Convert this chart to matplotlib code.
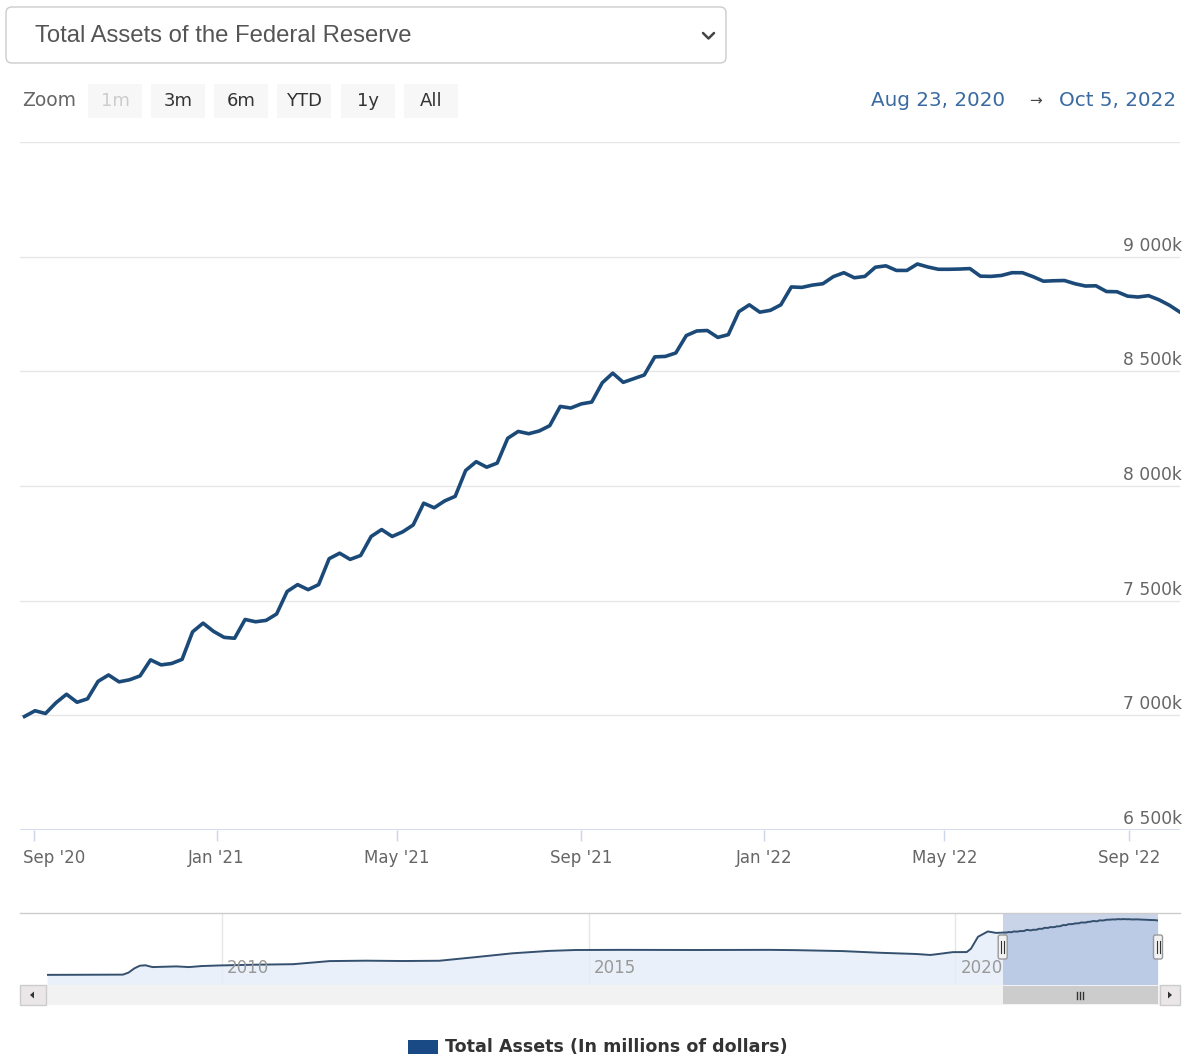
import numpy as np
import pandas as pd
import matplotlib
matplotlib.use('Agg')
import matplotlib.pyplot as plt
import matplotlib.dates as mdates
from matplotlib.patches import FancyBboxPatch, Rectangle, Polygon
from matplotlib.transforms import offset_copy

W, H = 1190, 1059

# ---- data: weekly total assets (millions of dollars, shown in k) ----
week_start = '2020-08-26'
week_end = '2022-10-05'
total_assets = [
    # 2020
    6995, 7020, 7008, 7055, 7092, 7057, 7072, 7148, 7176, 7146,
    7155, 7172, 7242, 7220, 7226, 7244, 7364, 7402, 7366,
    # 2021
    7340, 7336, 7418, 7408, 7414, 7442, 7540, 7570, 7548, 7570,
    7683, 7707, 7680, 7697, 7780, 7810, 7780, 7800, 7830, 7925,
    7905, 7935, 7955, 8068, 8106, 8082, 8100, 8208, 8238, 8228,
    8240, 8263, 8347, 8340, 8358, 8366, 8450, 8492, 8452, 8468,
    8484, 8563, 8565, 8580, 8656, 8676, 8678, 8648, 8660, 8760,
    8790, 8758,
    # 2022
    8766, 8790, 8868, 8866, 8876, 8882, 8913, 8930, 8908, 8914,
    8954, 8960, 8940, 8940, 8968, 8955, 8945, 8945, 8946, 8948,
    8915, 8914, 8918, 8930, 8930, 8913, 8893, 8895, 8896, 8882,
    8872, 8873, 8848, 8847, 8828, 8824, 8830, 8812, 8788, 8758,
]

# navigator history (coarse)
nav_dates = ['2007-08-15', '2008-08-27', '2008-09-24', '2008-10-22', '2008-11-19',
             '2008-12-17', '2009-01-21', '2009-03-18', '2009-05-20', '2009-07-22',
             '2009-09-23', '2009-12-23', '2010-03-24', '2010-06-23', '2010-12-22',
             '2011-03-23', '2011-06-22', '2011-12-21', '2012-06-20', '2012-12-19',
             '2013-06-19', '2013-12-18', '2014-06-18', '2014-10-29', '2015-06-17',
             '2016-06-22', '2017-06-21', '2017-10-25', '2018-06-20', '2018-12-19',
             '2019-06-19', '2019-08-28', '2019-09-25', '2019-12-18', '2020-02-26',
             '2020-03-18', '2020-04-22', '2020-06-10', '2020-07-22', '2020-08-19']
nav_values = [870, 905, 1200, 1800, 2200,
              2260, 2000, 2050, 2100, 2000,
              2150, 2240, 2300, 2350, 2420,
              2650, 2870, 2930, 2880, 2920,
              3450, 4000, 4350, 4480, 4500,
              4480, 4500, 4460, 4320, 4080,
              3900, 3760, 3850, 4170, 4180,
              4670, 6400, 7170, 6960, 7000]

y_ticks = [6500, 7000, 7500, 8000, 8500, 9000, 9500]
nav_years = [2010, 2015, 2020]
view_start, view_end = '2020-08-23', '2022-10-05'
nav_start = '2007-08-15'

LINE = '#1c4a78'
AXIS = '#ccd6eb'
GRID = '#e6e6e6'
LABEL = '#666666'

dates = pd.date_range(week_start, week_end, freq='W-WED')

fig = plt.figure(figsize=(W / 100, H / 100), dpi=100)
fig.patch.set_facecolor('white')

# ── main chart ──
ax = fig.add_axes([20 / W, 1 - 830 / H, 1160 / W, 688 / H])
ax.plot(dates, total_assets, color=LINE, lw=2.6, solid_joinstyle='round', zorder=3)
ax.set_xlim(pd.Timestamp(view_start), pd.Timestamp(view_end))
ax.set_ylim(y_ticks[0], y_ticks[-1])
for s in ax.spines.values():
    s.set_visible(False)
for v in y_ticks[1:]:
    ax.axhline(v, color=GRID, lw=1, zorder=0)
ax.axhline(y_ticks[0], color=AXIS, lw=1.2, zorder=1)
ax.set_yticks([])
for v in y_ticks[:-1]:
    ax.annotate(f'{v // 1000} {v % 1000:03d}k', xy=(1, v),
                xycoords=('axes fraction', 'data'), xytext=(2, 2),
                textcoords='offset pixels', ha='right', va='bottom',
                fontsize=12.3, color=LABEL)

ax.xaxis.set_major_locator(mdates.MonthLocator(bymonth=[1, 5, 9]))
ax.xaxis.set_major_formatter(mdates.DateFormatter("%b '%y"))
ax.tick_params(axis='x', direction='out', length=8, width=1, color=AXIS,
               labelsize=12, labelcolor=LABEL, pad=6)
fig.canvas.draw()
first = ax.get_xticklabels()[0]
first.set_horizontalalignment('left')
first.set_transform(offset_copy(first.get_transform(), fig=fig, x=-11, units='dots'))

# ── navigator ──
nav = fig.add_axes([47 / W, 1 - 985 / H, 1111 / W, 72 / H])
nx = list(pd.to_datetime(nav_dates)) + list(dates)
ny = nav_values + total_assets
nav.set_xlim(pd.Timestamp(nav_start), pd.Timestamp(view_end))
nav.set_ylim(-600, 9850)
nav.fill_between(nx, ny, -600, color='#e4edf8', alpha=0.8, lw=0, zorder=1)
nav.plot(nx, ny, color='#34506e', lw=1.4, zorder=3)
nav.axvspan(pd.Timestamp(view_start), pd.Timestamp(view_end),
            color=(102 / 255, 133 / 255, 194 / 255, 0.35), lw=0, zorder=2)
for yr in nav_years:
    d = pd.Timestamp(f'{yr}-01-01')
    nav.axvline(d, color=GRID, lw=1, zorder=0)
    nav.annotate(str(yr), xy=(d, 0.24), xycoords=('data', 'axes fraction'),
                 xytext=(5, 0), textcoords='offset pixels', ha='left', va='center',
                 fontsize=12, color='#999999', zorder=4)
nav.axis('off')

# ── ui overlay (pixel coords) ──
ui = fig.add_axes([0, 0, 1, 1], zorder=10)
ui.set_xlim(0, W)
ui.set_ylim(H, 0)
ui.axis('off')
ui.patch.set_alpha(0)

ui.add_patch(FancyBboxPatch((6, 7), 720, 56, boxstyle='round,pad=0,rounding_size=6',
                            fc='white', ec='#cccccc', lw=1))
ui.text(35, 36, 'Total Assets of the Federal Reserve', fontsize=17.2,
        family='Liberation Sans', color='#555555', va='center')
ui.plot([703, 708.5, 714], [33, 38.5, 33], color='#444444', lw=1.8,
        solid_capstyle='round', solid_joinstyle='round')

ui.text(22, 101, 'Zoom', fontsize=13.5, color=LABEL, va='center')
buttons = ['1m', '3m', '6m', 'YTD', '1y', 'All']
bx = [115, 178, 241, 304, 368, 431]
for lab, x in zip(buttons, bx):
    ui.add_patch(Rectangle((x - 27, 84), 54, 34, fc='#f7f7f7', ec='none'))
    ui.text(x, 101, lab, fontsize=13, ha='center', va='center',
            color='#cccccc' if lab == '1m' else '#333333')

ui.text(1005, 101, 'Aug 23, 2020', fontsize=14.3, color='#3a6aa0', ha='right', va='center')
ui.text(1035, 101, '→', fontsize=11, color='#444444', ha='center', va='center')
ui.text(1176, 101, 'Oct 5, 2022', fontsize=14.3, color='#3a6aa0', ha='right', va='center')

# navigator frame + scrollbar
ui.plot([20, 1180], [913, 913], color='#cccccc', lw=1)
ui.add_patch(Rectangle((20, 985), 1160, 20, fc='#f2f2f2', ec='none'))
ui.add_patch(Rectangle((20, 985), 26, 20, fc='#ebe7e8', ec='#cccccc', lw=1))
ui.add_patch(Rectangle((1160, 985), 20, 20, fc='#ebe7e8', ec='#cccccc', lw=1))
ui.add_patch(Polygon([[30, 995], [34, 991.5], [34, 998.5]], closed=True, fc='#333333'))
ui.add_patch(Polygon([[1172, 995], [1168, 991.5], [1168, 998.5]], closed=True, fc='#333333'))

x0 = nav.transData.transform((mdates.date2num(pd.Timestamp(view_start)), 0))[0]
x1 = nav.transData.transform((mdates.date2num(pd.Timestamp(view_end)), 0))[0]
ui.add_patch(Rectangle((x0, 986), x1 - x0, 18, fc='#cccccc', ec='none'))
xm = (x0 + x1) / 2
for dx in (-3, 0, 3):
    ui.plot([xm + dx, xm + dx], [991.5, 998.5], color='#333333', lw=1)
for hx in (x0, x1):
    ui.add_patch(FancyBboxPatch((hx - 4.5, 935), 9, 24,
                                boxstyle='round,pad=0,rounding_size=2',
                                fc='#f2f2f2', ec='#999999', lw=1, zorder=5))
    for dx in (-1.5, 1.5):
        ui.plot([hx + dx, hx + dx], [941, 953], color='#333333', lw=0.8, zorder=6)

# legend
ui.add_patch(Rectangle((408, 1040), 30, 14, fc='#1a4a85', ec='none'))
ui.text(445, 1047, 'Total Assets (In millions of dollars)', fontsize=12.6,
        fontweight='bold', color='#333333', va='center')

fig.savefig('out.png', dpi=100)
